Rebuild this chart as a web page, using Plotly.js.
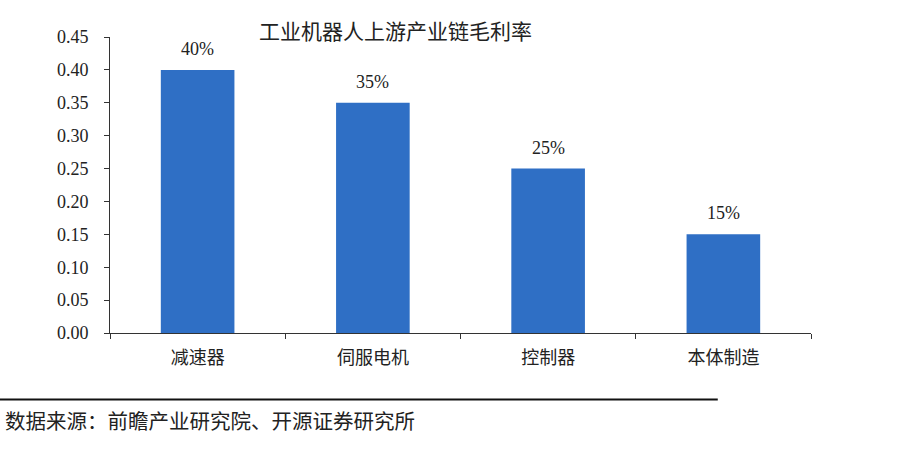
<!DOCTYPE html>
<html>
<head>
<meta charset="utf-8">
<script src="https://cdn.plot.ly/plotly-3.0.1.min.js"></script>
<style>
  html, body { margin: 0; padding: 0; background: #fff; }
  #chart { width: 905px; height: 457px; }
</style>
</head>
<body>
<div id="chart"></div>
<script>
let categories = ['减速器', '伺服电机', '控制器', '本体制造'];
let margins = [0.40, 0.35, 0.25, 0.15];
let labels = ['40%', '35%', '25%', '15%'];
let yTicks = [0, 0.05, 0.10, 0.15, 0.20, 0.25, 0.30, 0.35, 0.40, 0.45];

let serif = '"Liberation Serif", "Times New Roman", serif';
let cjk = '"Noto Sans CJK SC", sans-serif';

let bars = {
    type: 'bar',
    x: categories,
    y: margins,
    marker: { color: '#2f6fc5' },
    hoverinfo: 'skip'
};

// value labels above each bar
let valueNotes = categories.map((c, i) => ({
    x: c,
    y: margins[i],
    text: labels[i],
    xref: 'x', yref: 'y',
    yanchor: 'bottom',
    yshift: 9,
    showarrow: false,
    font: { family: serif, size: 18, color: '#222' }
}));

let layout = {
    width: 905,
    height: 457,
    margin: { l: 110, r: 94, t: 37, b: 124 },
    paper_bgcolor: '#fff',
    plot_bgcolor: '#fff',
    bargap: 0.58,
    showlegend: false,
    xaxis: {
        type: 'category',
        tickson: 'boundaries',
        ticks: 'outside',
        ticklen: 5,
        tickcolor: '#333',
        showline: true,
        linecolor: '#333',
        linewidth: 1,
        showgrid: false,
        ticklabelstandoff: 8,
        tickfont: { family: cjk, size: 18, color: '#222' }
    },
    yaxis: {
        range: [0, 0.45],
        tickvals: yTicks,
        ticktext: yTicks.map(v => v.toFixed(2)),
        ticks: 'outside',
        ticklen: 5,
        tickcolor: '#333',
        showline: true,
        linecolor: '#333',
        linewidth: 1,
        showgrid: false,
        zeroline: false,
        ticklabelstandoff: 12,
        tickfont: { family: serif, size: 18, color: '#222' }
    },
    annotations: valueNotes.concat([
        {
            text: '工业机器人上游产业链毛利率',
            xref: 'paper', yref: 'paper',
            x: 0.407, y: 1.024, xanchor: 'center', yanchor: 'middle',
            showarrow: false,
            font: { family: cjk, size: 21, color: '#222' }
        },
        {
            text: '数据来源：前瞻产业研究院、开源证券研究所',
            xref: 'paper', yref: 'paper',
            x: -0.152, y: -0.294, xanchor: 'left', yanchor: 'middle',
            showarrow: false,
            font: { family: cjk, size: 20.5, color: '#222' }
        }
    ]),
    shapes: [
        {
            type: 'line',
            xref: 'paper', yref: 'paper',
            x0: -0.157, x1: 0.867, y0: -0.225, y1: -0.225,
            line: { color: '#111', width: 2 }
        }
    ]
};

Plotly.newPlot('chart', [bars], layout, { displayModeBar: false, staticPlot: true });
</script>
</body>
</html>
